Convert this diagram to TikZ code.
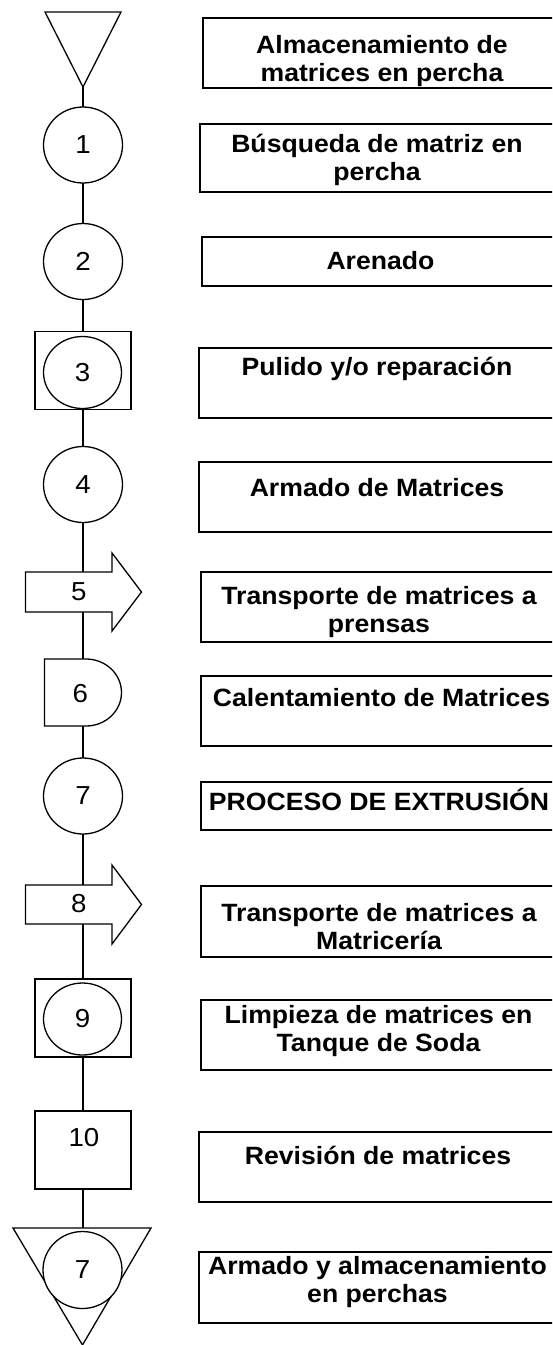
\documentclass[tikz,border=0pt]{standalone}
\usepackage{fontspec}
\setmainfont{Liberation Sans}[FakeStretch=1.065]
\usetikzlibrary{calc,shapes.geometric}

\begin{document}
\begin{tikzpicture}
	[x=1pt,y=-1pt,every node/.style={inner sep=0pt, outer sep=0pt}]
	\tikzstyle{edges} = [line width=1.8pt];
	\tikzstyle{symb} = [draw, line width=1.3pt, fill=white];
	\tikzstyle{num} = [font=\fontsize{26}{28}\selectfont];
	\tikzstyle{opcircle} = [symb, num, ellipse, minimum width=79pt, minimum height=76pt];
	\tikzstyle{opsquare} = [symb, rectangle, minimum width=96pt, minimum height=78pt];
	\tikzstyle{stepbox} = [draw, line width=2pt, rectangle, anchor=north west, minimum width=400pt];
	\tikzstyle{steptext} = [align=center, font=\bfseries\fontsize{25}{28}\selectfont];
	
	\useasboundingbox (0,0) rectangle (552,1345);
	\clip (0,0) rectangle (552,1345);
	
	\draw[symb] (45,12) -- (121,12) -- (83,87) -- cycle;
	\coordinate (t0) at (83,87);
	\node[opcircle] (c1) at (83,145) {1};
	\node[opcircle] (c2) at (83,261.5) {2};
	\node[opsquare] (s3) at (83,370.5) {};
	\node[opcircle, minimum width=78pt, minimum height=72pt] (c3) at (82.5,372.5) {3};
	\node[opcircle] (c4) at (83,484.5) {4};
	\draw[symb] (25.5,572) -- (112,572) -- (112,553) -- (141.5,592) -- (112,631) -- (112,612) -- (25.5,612) -- cycle;
	\coordinate (a5t) at (83,572);
	\coordinate (a5b) at (83,612);
	\node[num] (n5) at (78.7,592) {5};
	\draw[symb] (44.5,659) -- (86,659) arc[start angle=90, end angle=-90, x radius=35.5pt, y radius=33.5pt] -- (44.5,726) -- cycle;
	\coordinate (d6t) at (83,659);
	\coordinate (d6b) at (83,726);
	\node[num] (n6) at (80.3,694) {6};
	\node[opcircle] (c7) at (83,796) {7};
	\draw[symb] (25.5,885) -- (112,885) -- (112,865) -- (141.5,904.5) -- (112,944) -- (112,924) -- (25.5,924) -- cycle;
	\coordinate (a8t) at (83,885);
	\coordinate (a8b) at (83,924);
	\node[num] (n8) at (78.7,904) {8};
	\node[opsquare] (s9) at (83,1018) {};
	\node[opcircle, minimum width=78pt, minimum height=72pt] (c9) at (82.5,1019) {9};
	\node[opsquare] (s10) at (83,1150) {};
	\node[num] (n10) at (84,1138) {10};
	\draw[symb] (13,1228) -- (151,1228) -- (82.5,1345) -- cycle;
	\coordinate (t12) at (83,1228);
	\node[opcircle, minimum height=77pt] (c12) at (82.5,1270) {7};
	
	\draw[edges] (t0) -- (c1);
	\draw[edges] (c1) -- (c2);
	\draw[edges] (c2) -- (s3);
	\draw[edges] (s3) -- (c4);
	\draw[edges] (c4) -- (a5t);
	\draw[edges] (a5b) -- (d6t);
	\draw[edges] (d6b) -- (c7);
	\draw[edges] (c7) -- (a8t);
	\draw[edges] (a8b) -- (s9);
	\draw[edges] (s9) -- (s10);
	\draw[edges] (s10) -- (t12);
	
	\node[stepbox, minimum height=70pt] (b1) at (203,18) {};
	\node[stepbox, minimum height=68pt] (b2) at (199.5,124) {};
	\node[stepbox, minimum height=49pt] (b3) at (202,237) {};
	\node[stepbox, minimum height=70pt] (b4) at (198.5,348) {};
	\node[stepbox, minimum height=70pt] (b5) at (198.5,462) {};
	\node[stepbox, minimum height=70pt] (b6) at (200.5,572) {};
	\node[stepbox, minimum height=70pt] (b7) at (200.5,676) {};
	\node[stepbox, minimum height=48pt] (b8) at (200.5,782) {};
	\node[stepbox, minimum height=71pt] (b9) at (200.5,886) {};
	\node[stepbox, minimum height=70pt] (b10) at (200.5,1000) {};
	\node[stepbox, minimum height=70pt] (b11) at (198.5,1132) {};
	\node[stepbox, minimum height=71pt] (b12) at (198.5,1252) {};
	
	\node[steptext] (l1) at (382,61) {Almacenamiento de\\matrices en percha};
	\node[steptext] (l2) at (377,160) {Búsqueda de matriz en\\percha};
	\node[steptext] (l3) at (380.5,261) {Arenado};
	\node[steptext] (l4) at (377,369) {Pulido y/o reparación};
	\node[steptext] (l5) at (377,488) {Armado de Matrices};
	\node[steptext] (l6) at (379,612) {Transporte de matrices a\\prensas};
	\node[steptext] (l7) at (381.5,698) {Calentamiento de Matrices};
	\node[steptext] (l8) at (379,800) {PROCESO DE EXTRUSIÓN};
	\node[steptext] (l9) at (379,927) {Transporte de matrices a\\Matricería};
	\node[steptext] (l10) at (378.5,1031) {Limpieza de matrices en\\Tanque de Soda};
	\node[steptext] (l11) at (378,1155) {Revisión de matrices};
	\node[steptext] (l12) at (377.5,1282) {Armado y almacenamiento\\en perchas};
\end{tikzpicture}
\end{document}
